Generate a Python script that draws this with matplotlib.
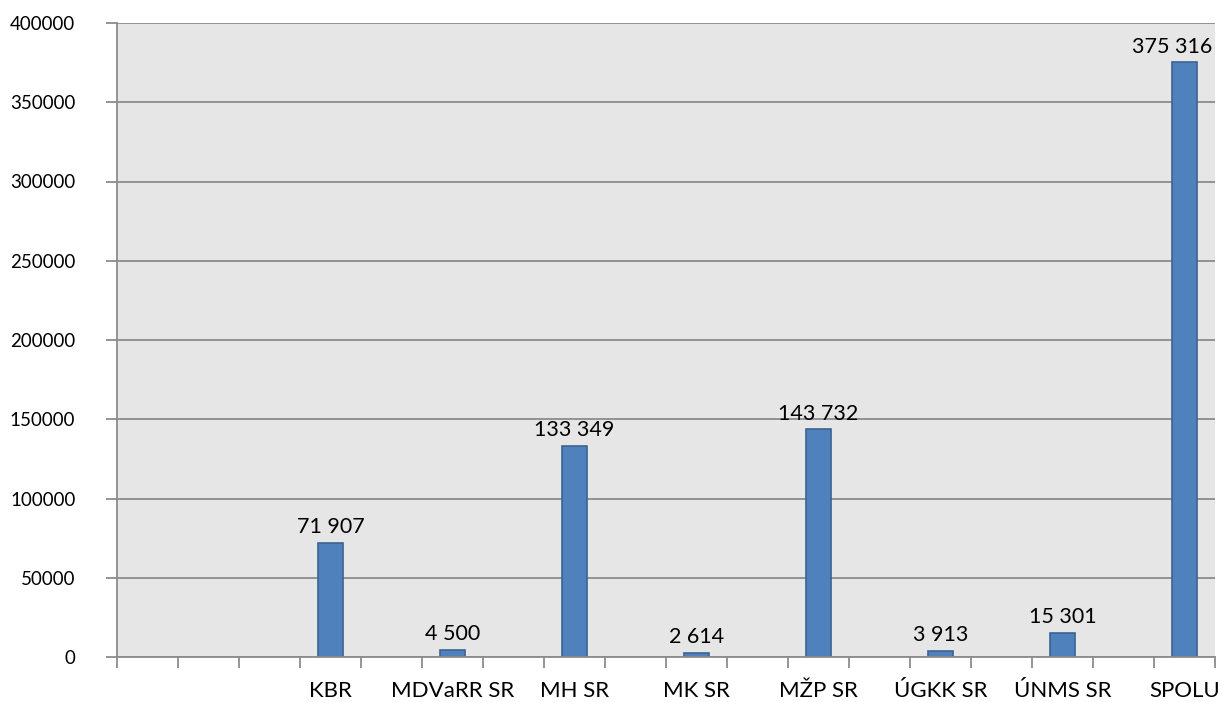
import numpy as np
import matplotlib
matplotlib.use('Agg')
import matplotlib.pyplot as plt

plt.rcParams['font.family'] = ['Lato', 'DejaVu Sans']

# kategórie grafu (prázdne stĺpce ako v pôvodnej tabuľke)
categories = ['', '', '', 'KBR', '', 'MDVaRR SR', '', 'MH SR', '', 'MK SR',
              '', 'MŽP SR', '', 'ÚGKK SR', '', 'ÚNMS SR', '', 'SPOLU']
values = [np.nan, np.nan, np.nan, 71907, np.nan, 4500, np.nan, 133349, np.nan, 2614,
          np.nan, 143732, np.nan, 3913, np.nan, 15301, np.nan, 375316]
y_ticks = [0, 50000, 100000, 150000, 200000, 250000, 300000, 350000, 400000]

fig = plt.figure(figsize=(12.22, 7.02), dpi=100)
ax = fig.add_axes([117 / 1222, 45 / 702, 1098 / 1222, 634 / 702])
ax.set_facecolor('#e6e6e6')

x = np.arange(len(categories))
vals = np.array(values, dtype=float)
mask = ~np.isnan(vals)
bars = ax.bar(x[mask], vals[mask], width=0.42, color='#4f81bd',
              edgecolor='#3b6492', linewidth=1.2, zorder=3)

# popisky hodnôt nad stĺpcami (posledný trochu doľava, aby sa zmestil)
n_bars = len(bars)
for i, (rect, v) in enumerate(zip(bars, vals[mask])):
    dx = -9 if i == n_bars - 1 else 0
    ax.annotate(f'{int(v):,}'.replace(',', ' '),
                xy=(rect.get_x() + rect.get_width() / 2, rect.get_height()),
                xytext=(dx, 4), textcoords='offset points',
                ha='center', va='bottom', fontsize=15.5, color='black', zorder=4)

ax.set_xlim(-0.5, len(categories) - 0.5)
ax.set_ylim(0, 400000)
ax.set_yticks(y_ticks)
ax.set_yticklabels([str(t) for t in y_ticks], fontsize=13.5)
ax.yaxis.grid(True, color='#8c8c8c', linewidth=1.3, zorder=0)

# čiarky medzi kategóriami, popisy v strede
ax.set_xticks(np.arange(len(categories) + 1) - 0.5)
ax.set_xticklabels([])
ax.set_xticks(x, minor=True)
ax.set_xticklabels(categories, minor=True, fontsize=16)
ax.tick_params(axis='x', which='major', length=8, width=1.3, color='#8c8c8c')
ax.tick_params(axis='x', which='minor', length=0, pad=17)
ax.tick_params(axis='y', length=8, width=1.3, color='#8c8c8c', pad=22)

for s in ['top', 'right']:
    ax.spines[s].set_visible(False)
for s in ['left', 'bottom']:
    ax.spines[s].set_color('#8c8c8c')
    ax.spines[s].set_linewidth(1.3)
    ax.spines[s].set_zorder(5)

plt.savefig('out.png', dpi=100)
